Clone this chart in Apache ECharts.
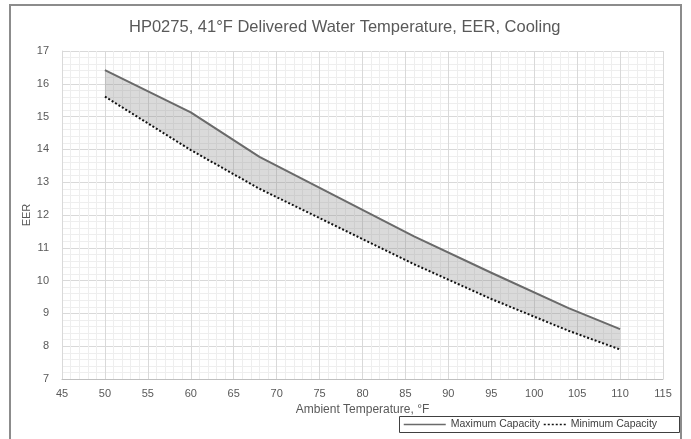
<!DOCTYPE html>
<html>
<head>
<meta charset="utf-8">
<script src="https://cdn.jsdelivr.net/npm/echarts@6/dist/echarts.min.js"></script>
<style>
  html, body { margin: 0; padding: 0; background: #fff; }
  #chart { width: 691px; height: 439px; }
</style>
</head>
<body>
<div id="chart"></div>
<script>
var temps = [50, 60, 68, 86, 95, 104, 110];
var maxCapacity = [16.42, 15.13, 13.77, 11.35, 10.24, 9.16, 8.52];
var minCapacity = [15.61, 13.98, 12.80, 10.50, 9.44, 8.47, 7.90];
var xTicks = [45, 50, 55, 60, 65, 70, 75, 80, 85, 90, 95, 100, 105, 110, 115];
var yTicks = [7, 8, 9, 10, 11, 12, 13, 14, 15, 16, 17];

function pairs(ys) {
    return temps.map(function (t, i) { return [t, ys[i]]; });
}

var chartDom = document.getElementById('chart');
var myChart = echarts.init(chartDom);
var option;

var font = 'Liberation Sans';
var labelColor = '#595959';

// shaded band between min and max capacity, drawn once as a polygon
function renderBand(params, api) {
    if (params.dataIndex !== 0) return null;
    var pts = [];
    for (var i = 0; i < temps.length; i++) pts.push(api.coord([temps[i], maxCapacity[i]]));
    for (var j = temps.length - 1; j >= 0; j--) pts.push(api.coord([temps[j], minCapacity[j]]));
    return {
        type: 'polygon',
        shape: { points: pts },
        style: { fill: 'rgba(140,140,140,0.32)' },
        silent: true
    };
}

option = {
    animation: false,
    textStyle: { fontFamily: font },
    title: {
        text: 'HP0275, 41°F Delivered Water Temperature, EER, Cooling',
        left: 124,
        top: 14,
        textStyle: { color: labelColor, fontSize: 16.5, fontWeight: 'normal', fontFamily: font }
    },
    graphic: [
        // outer frame and legend box
        { type: 'rect', shape: { x: 10, y: 5, width: 671, height: 445 },
          style: { fill: 'none', stroke: '#8c8c8c', lineWidth: 2 }, silent: true },
        { type: 'rect', shape: { x: 399.5, y: 416.5, width: 280, height: 16 },
          style: { fill: 'none', stroke: '#404040', lineWidth: 1 }, silent: true }
    ],
    legend: [
        {
            data: ['Maximum Capacity'],
            left: 398, top: 414,
            itemWidth: 42, itemHeight: 10,
            itemStyle: { opacity: 0 },
            lineStyle: { width: 1.5 },
            textStyle: { color: '#404040', fontSize: 10.5, fontFamily: font }
        },
        {
            data: ['Minimum Capacity'],
            left: 538, top: 414,
            itemWidth: 22, itemHeight: 10,
            itemStyle: { opacity: 0 },
            lineStyle: { width: 1.5 },
            textStyle: { color: '#404040', fontSize: 10.5, fontFamily: font }
        }
    ],
    grid: { left: 62, right: 28, top: 51, bottom: 60 },
    xAxis: {
        type: 'value',
        min: xTicks[0],
        max: xTicks[xTicks.length - 1],
        interval: 5,
        name: 'Ambient Temperature, °F',
        nameLocation: 'middle',
        nameGap: 23,
        nameTextStyle: { color: labelColor, fontSize: 12, fontFamily: font },
        axisLine: { show: true, lineStyle: { color: '#bfbfbf' } },
        axisTick: { show: false },
        axisLabel: { color: labelColor, fontSize: 11, margin: 9 },
        splitLine: { show: true, lineStyle: { color: '#d9d9d9' } },
        minorTick: { show: false, splitNumber: 5 },
        minorSplitLine: { show: true, lineStyle: { color: '#eeeeee' } }
    },
    yAxis: {
        type: 'value',
        min: yTicks[0],
        max: yTicks[yTicks.length - 1],
        interval: 1,
        name: 'EER',
        nameLocation: 'middle',
        nameGap: 30,
        nameMoveOverlap: false,
        nameTextStyle: { color: labelColor, fontSize: 11, fontFamily: font },
        axisLine: { show: true, lineStyle: { color: '#d9d9d9' } },
        axisTick: { show: false },
        axisLabel: { color: labelColor, fontSize: 11, margin: 13 },
        splitLine: { show: true, lineStyle: { color: '#d9d9d9' } },
        minorTick: { show: false, splitNumber: 5 },
        minorSplitLine: { show: true, lineStyle: { color: '#eeeeee' } }
    },
    series: [
        {
            name: 'band',
            type: 'custom',
            renderItem: renderBand,
            data: pairs(maxCapacity),
            silent: true,
            z: 1
        },
        {
            name: 'Maximum Capacity',
            type: 'line',
            data: pairs(maxCapacity),
            symbol: 'none',
            itemStyle: { color: '#6a6a6a' },
            lineStyle: { color: '#6a6a6a', width: 2 },
            z: 3
        },
        {
            name: 'Minimum Capacity',
            type: 'line',
            data: pairs(minCapacity),
            symbol: 'none',
            itemStyle: { color: '#111' },
            lineStyle: { color: '#111', width: 2, type: [2, 2] },
            z: 3
        }
    ]
};

option && myChart.setOption(option);
</script>
</body>
</html>
